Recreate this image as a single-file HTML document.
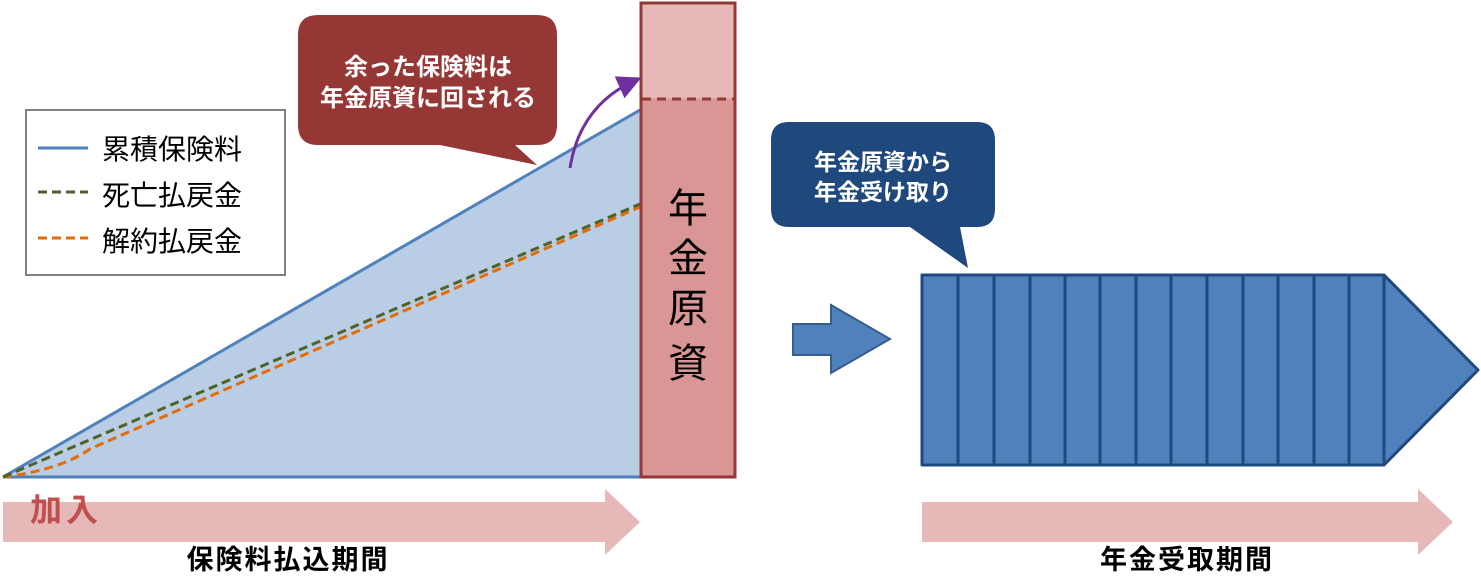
<!DOCTYPE html>
<html><head><meta charset="utf-8"><style>
body{margin:0;background:#fff;}
svg{display:block;font-family:"Liberation Sans","Noto Sans CJK JP",sans-serif;}
</style></head><body>
<svg width="1481" height="586" viewBox="0 0 1481 586">
<defs><marker id="pa" markerWidth="8" markerHeight="8" refX="6" refY="4" orient="auto"><path d="M0,0 L8,4 L0,8 z" fill="#7030a0"/></marker></defs>
<polygon points="3,477 640,110 640,477" fill="#b9cde4"/>
<line x1="3" y1="477" x2="640" y2="110" stroke="#4f81bd" stroke-width="3"/>
<line x1="3" y1="477" x2="640" y2="477" stroke="#4f81bd" stroke-width="3"/>
<path d="M3,477 Q60,470 90,449 L640,207" fill="none" stroke="#e36c09" stroke-width="3" stroke-dasharray="9,5"/>
<line x1="3" y1="477" x2="640" y2="204" stroke="#4f6228" stroke-width="3" stroke-dasharray="9,5"/>
<rect x="641" y="3" width="94" height="474" fill="#d99694" stroke="#953735" stroke-width="3"/>
<rect x="642.5" y="4.5" width="91" height="94" fill="#e6b9b8"/>
<line x1="642" y1="99" x2="734" y2="99" stroke="#953735" stroke-width="3" stroke-dasharray="9,6"/>
<text x="688" y="222" font-size="40" text-anchor="middle" fill="#000">年</text>
<text x="688" y="272" font-size="40" text-anchor="middle" fill="#000">金</text>
<text x="688" y="322" font-size="40" text-anchor="middle" fill="#000">原</text>
<text x="688" y="377" font-size="40" text-anchor="middle" fill="#000">資</text>
<path d="M570,168 Q580,105 636,80" fill="none" stroke="#7030a0" stroke-width="3" marker-end="url(#pa)"/>
<path d="M318,15 H537 Q557,15 557,35 V125 Q557,145 537,145 H515 L537,165 L440,145 H318 Q298,145 298,125 V35 Q298,15 318,15 Z" fill="#953735"/>
<text x="428" y="75" font-size="24" font-weight="bold" text-anchor="middle" fill="#fff">余った保険料は</text>
<text x="428" y="106" font-size="24" font-weight="bold" text-anchor="middle" fill="#fff">年金原資に回される</text>
<rect x="26" y="110" width="259" height="165" fill="#fff" stroke="#808080" stroke-width="2"/>
<line x1="38" y1="148" x2="88" y2="148" stroke="#4f81bd" stroke-width="3"/>
<line x1="38" y1="192" x2="88" y2="192" stroke="#4f6228" stroke-width="3" stroke-dasharray="9,5"/>
<line x1="38" y1="238" x2="88" y2="238" stroke="#e36c09" stroke-width="3" stroke-dasharray="9,5"/>
<text x="102" y="159" font-size="28" fill="#000">累積保険料</text>
<text x="102" y="205" font-size="28" fill="#000">死亡払戻金</text>
<text x="102" y="251" font-size="28" fill="#000">解約払戻金</text>
<polygon points="3,502 605,502 605,489 640,522 605,555 605,542 3,542" fill="#e6b9b8"/>
<polygon points="922,502 1418,502 1418,489 1453,522 1418,555 1418,542 922,542" fill="#e6b9b8"/>
<text x="30" y="521" font-size="32" font-weight="bold" letter-spacing="4" fill="#c0504d">加入</text>
<text x="288" y="569" font-size="27" font-weight="bold" letter-spacing="2" text-anchor="middle" fill="#000">保険料払込期間</text>
<text x="1187" y="569" font-size="27" font-weight="bold" letter-spacing="2" text-anchor="middle" fill="#000">年金受取期間</text>
<polygon points="793,324 831,324 831,305 890,339 831,373 831,355 793,355" fill="#4f81bd" stroke="#385d8a" stroke-width="2"/>
<path d="M789,122 H977 Q995,122 995,140 V209 Q995,227 977,227 H960 L968,268 L910,227 H789 Q771,227 771,209 V140 Q771,122 789,122 Z" fill="#1f497d"/>
<text x="883" y="170" font-size="23" font-weight="bold" text-anchor="middle" fill="#fff">年金原資から</text>
<text x="883" y="200" font-size="23" font-weight="bold" text-anchor="middle" fill="#fff">年金受け取り</text>
<polygon points="922,275 1384,275 1478,370 1384,465 922,465" fill="#4f81bd" stroke="#1f497d" stroke-width="3" stroke-linejoin="round"/>
<g stroke="#1f497d" stroke-width="3">
<line x1="958" y1="275" x2="958" y2="465"/><line x1="994" y1="275" x2="994" y2="465"/>
<line x1="1030" y1="275" x2="1030" y2="465"/><line x1="1065" y1="275" x2="1065" y2="465"/>
<line x1="1100" y1="275" x2="1100" y2="465"/><line x1="1136" y1="275" x2="1136" y2="465"/>
<line x1="1171" y1="275" x2="1171" y2="465"/><line x1="1207" y1="275" x2="1207" y2="465"/>
<line x1="1243" y1="275" x2="1243" y2="465"/><line x1="1278" y1="275" x2="1278" y2="465"/>
<line x1="1314" y1="275" x2="1314" y2="465"/><line x1="1349" y1="275" x2="1349" y2="465"/>
<line x1="1384" y1="275" x2="1384" y2="465"/>
</g>
</svg>
</body></html>
